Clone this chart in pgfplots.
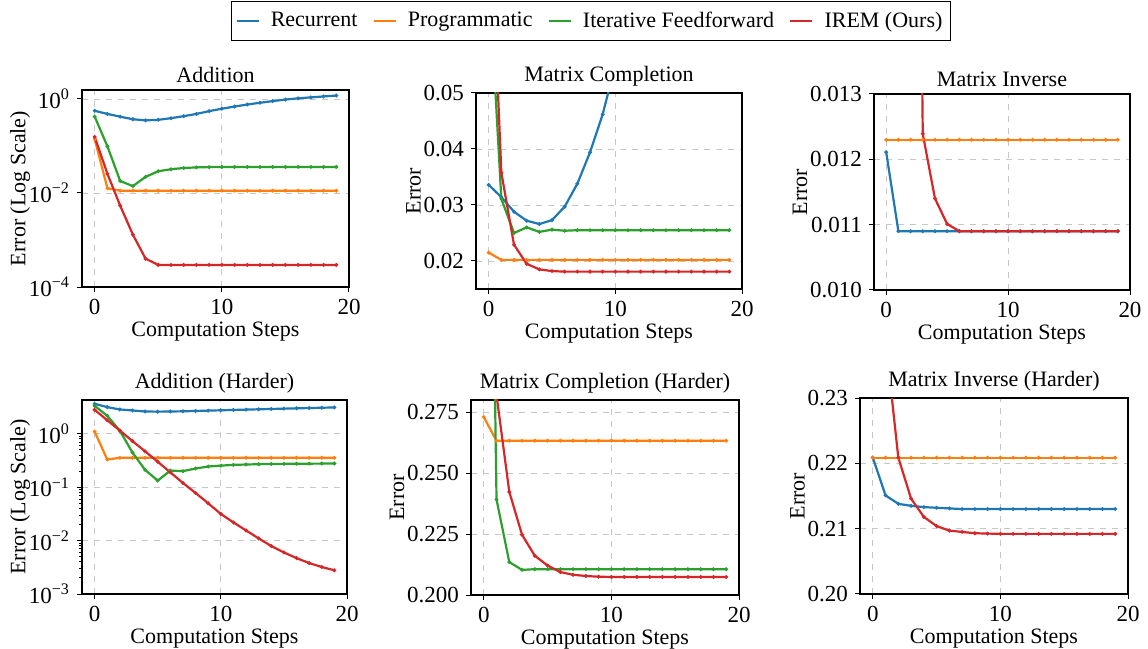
\documentclass[border=0pt]{standalone}
\usepackage{fontspec}
\setmainfont{Liberation Serif}
\usepackage{pgfplots}
\pgfplotsset{compat=1.18}
\usepackage{pgfplotstable}

\definecolor{tabblue}{HTML}{1F77B4}
\definecolor{taborange}{HTML}{FF7F0E}
\definecolor{tabgreen}{HTML}{2CA02C}
\definecolor{tabred}{HTML}{D62728}

% Addition
\pgfplotstableread{
x rec prog iff irem
0 0.56 0.139 0.42 0.156
1 0.48 0.0126 0.098 0.0255
2 0.42 0.0112 0.018 0.0054
3 0.37 0.0112 0.014 0.0013
4 0.35 0.0112 0.022 0.0004
5 0.36 0.0112 0.029 0.000295
6 0.39 0.0112 0.032 0.000295
7 0.43 0.0112 0.034 0.000295
8 0.48 0.0112 0.035 0.000295
9 0.55 0.0112 0.0355 0.000295
10 0.62 0.0112 0.0357 0.000295
11 0.69 0.0112 0.0358 0.000295
12 0.76 0.0112 0.0358 0.000295
13 0.83 0.0112 0.0358 0.000295
14 0.90 0.0112 0.0358 0.000295
15 0.97 0.0112 0.0358 0.000295
16 1.03 0.0112 0.0358 0.000295
17 1.08 0.0112 0.0358 0.000295
18 1.13 0.0112 0.0358 0.000295
19 1.18 0.0112 0.0358 0.000295
}\tabAdd

% Matrix Completion
\pgfplotstableread{
x rec prog iff irem
0 0.0336 0.0215 0.072 0.09
1 0.0314 0.0202 0.0311 0.0358
2 0.0288 0.0202 0.0250 0.0229
3 0.0272 0.0202 0.0260 0.0195
4 0.0266 0.0202 0.0252 0.0185
5 0.0273 0.0202 0.0256 0.0182
6 0.0297 0.0202 0.0254 0.0181
7 0.0338 0.0202 0.0255 0.0181
8 0.0394 0.0202 0.0255 0.0181
9 0.0462 0.0202 0.0255 0.0181
10 0.055 0.0202 0.0255 0.0181
11 0.065 0.0202 0.0255 0.0181
12 0.077 0.0202 0.0255 0.0181
13 0.090 0.0202 0.0255 0.0181
14 0.105 0.0202 0.0255 0.0181
15 0.120 0.0202 0.0255 0.0181
16 0.140 0.0202 0.0255 0.0181
17 0.160 0.0202 0.0255 0.0181
18 0.180 0.0202 0.0255 0.0181
19 0.200 0.0202 0.0255 0.0181
}\tabComp

% Matrix Inverse
\pgfplotstableread{
x rec prog irem
0 0.01211 0.0123 0.1
1 0.0109 0.0123 0.06
2 0.0109 0.0123 0.03
3 0.0109 0.0123 0.01239
4 0.0109 0.0123 0.0114
5 0.0109 0.0123 0.01101
6 0.0109 0.0123 0.0109
7 0.0109 0.0123 0.0109
8 0.0109 0.0123 0.0109
9 0.0109 0.0123 0.0109
10 0.0109 0.0123 0.0109
11 0.0109 0.0123 0.0109
12 0.0109 0.0123 0.0109
13 0.0109 0.0123 0.0109
14 0.0109 0.0123 0.0109
15 0.0109 0.0123 0.0109
16 0.0109 0.0123 0.0109
17 0.0109 0.0123 0.0109
18 0.0109 0.0123 0.0109
19 0.0109 0.0123 0.0109
}\tabInv

% Addition (Harder)
\pgfplotstableread{
x rec prog iff irem
0 3.65 1.1 3.35 2.82
1 3.16 0.33 2.18 1.8
2 2.86 0.355 1.14 1.15
3 2.74 0.355 0.447 0.73
4 2.62 0.355 0.211 0.47
5 2.60 0.355 0.133 0.30
6 2.62 0.355 0.205 0.19
7 2.64 0.355 0.200 0.12
8 2.68 0.355 0.224 0.078
9 2.72 0.355 0.244 0.050
10 2.76 0.355 0.254 0.0316
11 2.80 0.355 0.262 0.0219
12 2.84 0.355 0.266 0.0155
13 2.88 0.355 0.270 0.0110
14 2.92 0.355 0.272 0.0079
15 2.96 0.355 0.274 0.0060
16 3.00 0.355 0.275 0.0047
17 3.04 0.355 0.276 0.0038
18 3.08 0.355 0.277 0.0032
19 3.12 0.355 0.278 0.00278
}\tabAddH

% Matrix Completion (Harder)
\pgfplotstableread{
x prog iff irem
0 0.273 0.6 0.35
1 0.2633 0.2392 0.282
2 0.2633 0.2135 0.2423
3 0.2633 0.2103 0.2247
4 0.2633 0.2106 0.2161
5 0.2633 0.2106 0.2121
6 0.2633 0.2106 0.2094
7 0.2633 0.2106 0.2083
8 0.2633 0.2106 0.2078
9 0.2633 0.2106 0.2075
10 0.2633 0.2106 0.2074
11 0.2633 0.2106 0.2074
12 0.2633 0.2106 0.2074
13 0.2633 0.2106 0.2074
14 0.2633 0.2106 0.2074
15 0.2633 0.2106 0.2074
16 0.2633 0.2106 0.2074
17 0.2633 0.2106 0.2074
18 0.2633 0.2106 0.2074
19 0.2633 0.2106 0.2074
}\tabCompH

% Matrix Inverse (Harder)
\pgfplotstableread{
x rec prog irem
0 0.2209 0.22087 0.26
1 0.2151 0.22087 0.239
2 0.2138 0.22087 0.2209
3 0.2135 0.22087 0.2146
4 0.2133 0.22087 0.2118
5 0.2132 0.22087 0.2104
6 0.2131 0.22087 0.2097
7 0.2130 0.22087 0.2095
8 0.2130 0.22087 0.2093
9 0.2130 0.22087 0.20925
10 0.2130 0.22087 0.2092
11 0.2130 0.22087 0.2092
12 0.2130 0.22087 0.2092
13 0.2130 0.22087 0.2092
14 0.2130 0.22087 0.2092
15 0.2130 0.22087 0.2092
16 0.2130 0.22087 0.2092
17 0.2130 0.22087 0.2092
18 0.2130 0.22087 0.2092
19 0.2130 0.22087 0.2092
}\tabInvH

\pgfplotsset{
  panel/.style={
    scale only axis, anchor=south west,
    xmin=-1, xmax=20, xtick={0,10,20},
    scaled y ticks=false,
    grid=major,
    major grid style={dashed, black!22, line width=0.4pt},
    axis line style={line width=0.6pt},
    tick align=outside, tick pos=left,
    major tick length=2.5pt, minor tick length=1.5pt,
    every tick/.style={black, line width=0.5pt},
    tick label style={font=\fontsize{11.5}{13}\selectfont},
    label style={font=\fontsize{11}{13}\selectfont},
    title style={font=\fontsize{11}{13}\selectfont, yshift=-6pt},
    xlabel={Computation Steps},
    xlabel style={yshift=3pt},
    ylabel style={yshift=-5.5pt},
    /pgf/number format/assume math mode=true,
  },
  rec/.style={tabblue, line width=1.1pt, mark=*, mark size=0.3pt},
  prog/.style={taborange, line width=1.1pt, mark=*, mark size=0.3pt},
  iff/.style={tabgreen, line width=1.1pt, mark=*, mark size=0.3pt},
  irem/.style={tabred, line width=1.1pt, mark=*, mark size=0.3pt},
}

\begin{document}
\begin{tikzpicture}
\useasboundingbox (0,0) rectangle (574pt,324.5pt);

% row 1
\begin{axis}[panel, ymode=log, at={(41pt,181pt)}, width=133.5pt, height=98.5pt,
  title={Addition}, ylabel={Error (Log Scale)}, ylabel style={yshift=-2pt},
  ymin=1e-4, ymax=1.55,
  ytick={1e-4,1e-2,1},
  yticklabels={10\textsuperscript{−4},10\textsuperscript{−2},10\textsuperscript{0}},
  minor ytick={}]
\addplot[rec] table[x=x,y=rec] {\tabAdd};
\addplot[prog] table[x=x,y=prog] {\tabAdd};
\addplot[iff] table[x=x,y=iff] {\tabAdd};
\addplot[irem] table[x=x,y=irem] {\tabAdd};
\end{axis}

\begin{axis}[panel, at={(238pt,180pt)}, width=133pt, height=98pt,
  title={Matrix Completion}, ylabel={Error},
  ymin=0.015, ymax=0.05,
  ytick={0.02,0.03,0.04,0.05},
  yticklabels={0.02,0.03,0.04,0.05},
  legend style={at={(0.432,1.469)}, anchor=north, legend columns=4,
    draw=black, line width=0.6pt, font=\fontsize{11}{13}\selectfont,
    inner xsep=2pt, inner ysep=3pt,
    /tikz/every even column/.append style={column sep=5.5pt}},
  legend image code/.code={\draw[#1, mark=none, line width=1.3pt] (0pt,0pt) -- (11pt,0pt);
    \path (14.5pt,0pt);}]
\addplot[rec] table[x=x,y=rec] {\tabComp};
\addplot[prog] table[x=x,y=prog] {\tabComp};
\addplot[iff] table[x=x,y=iff] {\tabComp};
\addplot[irem] table[x=x,y=irem] {\tabComp};
\legend{Recurrent,Programmatic,Iterative Feedforward,IREM (Ours)}
\end{axis}

\begin{axis}[panel, at={(437pt,179.5pt)}, width=128pt, height=98pt,
  title={Matrix Inverse}, ylabel={Error},
  ymin=0.010, ymax=0.013,
  ytick={0.010,0.011,0.012,0.013},
  yticklabels={0.010,0.011,0.012,0.013}]
\addplot[rec] table[x=x,y=rec] {\tabInv};
\addplot[prog] table[x=x,y=prog] {\tabInv};
\addplot[irem] table[x=x,y=irem] {\tabInv};
\end{axis}

% row 2
\begin{axis}[panel, ymode=log, at={(41pt,27.5pt)}, width=132.5pt, height=97pt,
  title={Addition (Harder)}, ylabel={Error (Log Scale)}, ylabel style={yshift=-2pt},
  ymin=1e-3, ymax=4.3,
  ytick={1e-3,1e-2,1e-1,1},
  yticklabels={10\textsuperscript{−3},10\textsuperscript{−2},10\textsuperscript{−1},10\textsuperscript{0}}]
\addplot[rec] table[x=x,y=rec] {\tabAddH};
\addplot[prog] table[x=x,y=prog] {\tabAddH};
\addplot[iff] table[x=x,y=iff] {\tabAddH};
\addplot[irem] table[x=x,y=irem] {\tabAddH};
\end{axis}

\begin{axis}[panel, at={(235.5pt,27pt)}, width=134pt, height=97.5pt,
  title={Matrix Completion (Harder)}, ylabel={Error},
  ymin=0.2, ymax=0.28,
  ytick={0.2,0.225,0.25,0.275},
  yticklabels={0.200,0.225,0.250,0.275}]
\addplot[prog] table[x=x,y=prog] {\tabCompH};
\addplot[iff] table[x=x,y=iff] {\tabCompH};
\addplot[irem] table[x=x,y=irem] {\tabCompH};
\end{axis}

\begin{axis}[panel, at={(430pt,27.5pt)}, width=134pt, height=98pt,
  title={Matrix Inverse (Harder)}, ylabel={Error},
  ymin=0.2, ymax=0.23,
  ytick={0.20,0.21,0.22,0.23},
  yticklabels={0.20,0.21,0.22,0.23}]
\addplot[rec] table[x=x,y=rec] {\tabInvH};
\addplot[prog] table[x=x,y=prog] {\tabInvH};
\addplot[irem] table[x=x,y=irem] {\tabInvH};
\end{axis}
\end{tikzpicture}
\end{document}
